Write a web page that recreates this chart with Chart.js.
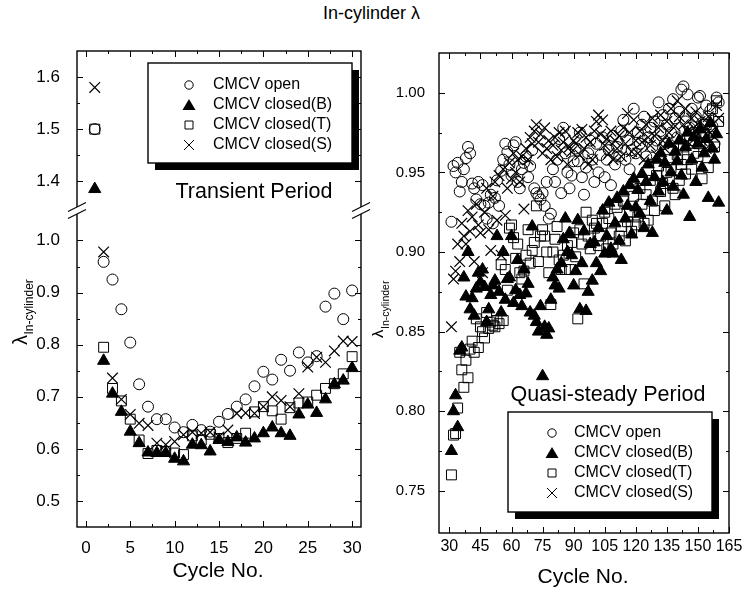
<!DOCTYPE html>
<html>
<head>
<meta charset="utf-8">
<script src="https://cdn.jsdelivr.net/npm/chart.js@4.4.1/dist/chart.umd.min.js"></script>
<style>
  html, body { margin: 0; padding: 0; background: #fff; }
  #wrap { position: relative; width: 743px; height: 597px; overflow: hidden;
          font-family: "Liberation Sans", Arial, Helvetica, sans-serif; }
  #title { position: absolute; left: 0; top: 3px; width: 743px; text-align: center;
           font-size: 18px; color: #000; }
  canvas { position: absolute; top: 0; }
</style>
</head>
<body>
<div id="wrap">
  <div id="title">In-cylinder λ</div>
  <canvas id="left" width="372" height="597" style="left:0"></canvas>
  <canvas id="right" width="371" height="597" style="left:372px"></canvas>
</div>
<script>
// ---- series labels ----
const seriesNames = ['CMCV open', 'CMCV closed(B)', 'CMCV closed(T)', 'CMCV closed(S)'];
const seriesKinds = ['circle', 'triangle', 'rect', 'crossRot'];

// ---- transient period (cycles 1-30) ----
const leftCycles = [1, 2, 3, 4, 5, 6, 7, 8, 9, 10, 11, 12, 13, 14, 15,
                    16, 17, 18, 19, 20, 21, 22, 23, 24, 25, 26, 27, 28, 29, 30];
const leftOpen = [1.50, 0.959, 0.925, 0.868, 0.804, 0.724, 0.681, 0.657, 0.657, 0.641,
                  0.632, 0.646, 0.636, 0.633, 0.652, 0.667, 0.681, 0.695, 0.720, 0.748,
                  0.733, 0.771, 0.750, 0.785, 0.766, 0.778, 0.873, 0.898, 0.849, 0.904];
const leftClosedB = [1.385, 0.769, 0.706, 0.671, 0.633, 0.611, 0.593, 0.592, 0.592, 0.581,
                     0.576, 0.608, 0.607, 0.595, 0.617, 0.613, 0.622, 0.612, 0.620, 0.630,
                     0.641, 0.630, 0.625, 0.666, 0.685, 0.669, 0.695, 0.724, 0.731, 0.755];
const leftClosedT = [1.50, 0.795, 0.716, 0.692, 0.657, 0.617, 0.591, 0.597, 0.595, 0.592,
                     0.589, 0.625, 0.617, 0.628, 0.620, 0.612, 0.620, 0.630, 0.671, 0.681,
                     0.673, 0.657, 0.679, 0.688, 0.690, 0.703, 0.716, 0.725, 0.744, 0.777];
const leftClosedS = [1.58, 0.978, 0.736, 0.695, 0.666, 0.649, 0.645, 0.611, 0.608, 0.614,
                     0.627, 0.632, 0.630, 0.632, 0.623, 0.636, 0.668, 0.669, 0.668, 0.681,
                     0.700, 0.693, 0.681, 0.706, 0.757, 0.776, 0.766, 0.788, 0.807, 0.806];

// ---- quasi-steady period (cycles 31-160) ----
const rightCycles = [
   31,  32,  33,  34,  35,  36,  37,  38,  39,  40,
   41,  42,  43,  44,  45,  46,  47,  48,  49,  50,
   51,  52,  53,  54,  55,  56,  57,  58,  59,  60,
   61,  62,  63,  64,  65,  66,  67,  68,  69,  70,
   71,  72,  73,  74,  75,  76,  77,  78,  79,  80,
   81,  82,  83,  84,  85,  86,  87,  88,  89,  90,
   91,  92,  93,  94,  95,  96,  97,  98,  99, 100,
  101, 102, 103, 104, 105, 106, 107, 108, 109, 110,
  111, 112, 113, 114, 115, 116, 117, 118, 119, 120,
  121, 122, 123, 124, 125, 126, 127, 128, 129, 130,
  131, 132, 133, 134, 135, 136, 137, 138, 139, 140,
  141, 142, 143, 144, 145, 146, 147, 148, 149, 150,
  151, 152, 153, 154, 155, 156, 157, 158, 159, 160];
const rightOpen = [
  0.919, 0.954, 0.950, 0.956, 0.938, 0.944, 0.952, 0.959, 0.966, 0.962,
  0.943, 0.940, 0.933, 0.944, 0.930, 0.942, 0.929, 0.921, 0.931, 0.936,
  0.918, 0.934, 0.945, 0.929, 0.951, 0.958, 0.968, 0.963, 0.955, 0.948,
  0.967, 0.969, 0.944, 0.940, 0.952, 0.956, 0.960, 0.947, 0.954, 0.964,
  0.940, 0.937, 0.935, 0.933, 0.937, 0.929, 0.944, 0.921, 0.924, 0.952,
  0.944, 0.958, 0.971, 0.937, 0.978, 0.962, 0.950, 0.940, 0.948, 0.957,
  0.965, 0.957, 0.975, 0.947, 0.936, 0.953, 0.962, 0.970, 0.958, 0.944,
  0.968, 0.950, 0.961, 0.972, 0.947, 0.958, 0.964, 0.942, 0.973, 0.955,
  0.966, 0.960, 0.976, 0.983, 0.958, 0.970, 0.952, 0.964, 0.990, 0.962,
  0.975, 0.968, 0.980, 0.985, 0.960, 0.972, 0.978, 0.966, 0.982, 0.970,
  0.994, 0.976, 0.986, 0.968, 0.980, 0.990, 0.975, 0.996, 0.984, 0.972,
  0.988, 1.002, 1.004, 0.982, 0.999, 0.978, 0.990, 0.970, 0.985, 0.997,
  0.998, 0.981, 0.975, 0.992, 0.985, 0.989, 0.979, 0.968, 0.997, 0.994];
const rightClosedB = [
  0.775, 0.800, 0.810, 0.790, 0.838, 0.840, 0.884, 0.872, 0.900, 0.864,
  0.871, 0.860, 0.877, 0.887, 0.881, 0.889, 0.878, 0.856, 0.864, 0.873,
  0.879, 0.882, 0.910, 0.875, 0.862, 0.900, 0.870, 0.883, 0.884, 0.910,
  0.868, 0.876, 0.895, 0.873, 0.866, 0.889, 0.874, 0.880, 0.862, 0.916,
  0.860, 0.856, 0.850, 0.866, 0.822, 0.853, 0.848, 0.852, 0.870, 0.884,
  0.879, 0.889, 0.877, 0.893, 0.908, 0.921, 0.900, 0.912, 0.898, 0.879,
  0.888, 0.920, 0.864, 0.893, 0.913, 0.863, 0.875, 0.905, 0.882, 0.906,
  0.893, 0.915, 0.888, 0.926, 0.899, 0.910, 0.931, 0.902, 0.899, 0.918,
  0.934, 0.907, 0.895, 0.938, 0.921, 0.929, 0.942, 0.911, 0.946, 0.928,
  0.939, 0.924, 0.949, 0.915, 0.944, 0.955, 0.932, 0.912, 0.947, 0.958,
  0.938, 0.962, 0.944, 0.956, 0.926, 0.968, 0.950, 0.941, 0.963, 0.957,
  0.970, 0.948, 0.936, 0.966, 0.975, 0.922, 0.958, 0.972, 0.944, 0.968,
  0.977, 0.953, 0.962, 0.971, 0.934, 0.981, 0.965, 0.958, 0.974, 0.931];
const rightClosedT = [
  0.760, 0.785, 0.786, 0.802, 0.837, 0.826, 0.815, 0.832, 0.821, 0.839,
  0.844, 0.837, 0.858, 0.840, 0.853, 0.850, 0.846, 0.862, 0.852, 0.856,
  0.854, 0.853, 0.857, 0.855, 0.892, 0.857, 0.889, 0.876, 0.915, 0.917,
  0.909, 0.896, 0.905, 0.887, 0.883, 0.888, 0.898, 0.914, 0.893, 0.901,
  0.906, 0.929, 0.894, 0.910, 0.914, 0.910, 0.900, 0.887, 0.867, 0.900,
  0.908, 0.916, 0.895, 0.889, 0.898, 0.889, 0.904, 0.889, 0.906, 0.912,
  0.897, 0.858, 0.914, 0.905, 0.880, 0.925, 0.910, 0.902, 0.920, 0.915,
  0.918, 0.904, 0.910, 0.918, 0.925, 0.902, 0.921, 0.912, 0.905, 0.930,
  0.928, 0.910, 0.916, 0.932, 0.907, 0.919, 0.925, 0.913, 0.935, 0.917,
  0.922, 0.940, 0.930, 0.918, 0.936, 0.920, 0.945, 0.932, 0.926, 0.948,
  0.954, 0.938, 0.943, 0.929, 0.950, 0.958, 0.953, 0.940, 0.936, 0.961,
  0.945, 0.955, 0.966, 0.949, 0.958, 0.970, 0.952, 0.962, 0.975, 0.960,
  0.968, 0.946, 0.972, 0.980, 0.953, 0.976, 0.990, 0.966, 0.995, 0.982];
const rightClosedS = [
  0.853, 0.883, 0.888, 0.905, 0.894, 0.918, 0.910, 0.905, 0.926, 0.913,
  0.922, 0.894, 0.930, 0.917, 0.912, 0.887, 0.925, 0.940, 0.914, 0.901,
  0.935, 0.944, 0.920, 0.948, 0.898, 0.952, 0.923, 0.940, 0.956, 0.946,
  0.962, 0.950, 0.958, 0.944, 0.960, 0.927, 0.965, 0.958, 0.972, 0.968,
  0.976, 0.980, 0.969, 0.974, 0.962, 0.978, 0.965, 0.970, 0.958, 0.967,
  0.972, 0.960, 0.975, 0.964, 0.969, 0.976, 0.955, 0.966, 0.963, 0.970,
  0.968, 0.975, 0.961, 0.977, 0.965, 0.972, 0.955, 0.969, 0.958, 0.976,
  0.982, 0.986, 0.974, 0.983, 0.967, 0.971, 0.962, 0.976, 0.958, 0.970,
  0.965, 0.973, 0.960, 0.978, 0.968, 0.987, 0.975, 0.963, 0.983, 0.970,
  0.962, 0.976, 0.969, 0.958, 0.980, 0.972, 0.967, 0.984, 0.973, 0.961,
  0.978, 0.986, 0.970, 0.965, 0.982, 0.975, 0.990, 0.968, 0.979, 0.995,
  0.985, 0.972, 0.980, 0.990, 0.976, 0.968, 0.984, 0.978, 0.988, 0.974,
  0.982, 0.970, 0.978, 0.965, 0.985, 0.975, 0.980, 0.972, 0.992, 0.984];

// ---- tick values ----
const leftXTicks = [0, 5, 10, 15, 20, 25, 30];
const leftXMinor = [2.5, 7.5, 12.5, 17.5, 22.5, 27.5];
const leftTopTicks = [1.4, 1.5, 1.6];
const leftTopMinor = [1.45, 1.55];
const leftLowTicks = [0.5, 0.6, 0.7, 0.8, 0.9, 1.0];
const leftLowMinor = [0.55, 0.65, 0.75, 0.85, 0.95];
const rightXTicks = [30, 45, 60, 75, 90, 105, 120, 135, 150, 165];
const rightXMinor = [37.5, 52.5, 67.5, 82.5, 97.5, 112.5, 127.5, 142.5, 157.5];
const rightYTicks = [0.75, 0.80, 0.85, 0.90, 0.95, 1.00];
const rightYMinor = [0.775, 0.825, 0.875, 0.925, 0.975];

const FONT = '"Liberation Sans", Arial, Helvetica, sans-serif';

// point appearance for each of the four series
const pointLook = [
  { pointStyle: 'circle',   pointRadius: 5.5, borderWidth: 1,   backgroundColor: 'rgba(0,0,0,0)' },
  { pointStyle: 'triangle', pointRadius: 7,   borderWidth: 1,   backgroundColor: '#000' },
  { pointStyle: 'rect',     pointRadius: 7,   borderWidth: 1,   backgroundColor: 'rgba(0,0,0,0)' },
  { pointStyle: 'crossRot', pointRadius: 7.5, borderWidth: 1.2, backgroundColor: 'rgba(0,0,0,0)' }
];

function scatterSet(xs, ys, k, axisId, keep) {
  const pts = [];
  xs.forEach((x, i) => { if (keep(ys[i])) pts.push({ x: x, y: ys[i] }); });
  return Object.assign({
    data: pts, yAxisID: axisId, borderColor: '#000',
    pointHoverRadius: pointLook[k].pointRadius, showLine: false
  }, pointLook[k]);
}

function drawMarker(ctx, kind, x, y) {
  ctx.save();
  ctx.strokeStyle = '#000'; ctx.fillStyle = '#000'; ctx.lineWidth = 1;
  ctx.beginPath();
  if (kind === 'circle') {
    ctx.arc(x, y, 4.2, 0, Math.PI * 2); ctx.stroke();
  } else if (kind === 'triangle') {
    ctx.moveTo(x, y - 6); ctx.lineTo(x + 6.5, y + 5); ctx.lineTo(x - 6.5, y + 5); ctx.closePath(); ctx.fill();
  } else if (kind === 'rect') {
    ctx.rect(x - 4, y - 4, 8, 8); ctx.stroke();
  } else {
    ctx.moveTo(x - 5, y - 5); ctx.lineTo(x + 5, y + 5);
    ctx.moveTo(x + 5, y - 5); ctx.lineTo(x - 5, y + 5); ctx.stroke();
  }
  ctx.restore();
}

// frame box with inward ticks on all four sides, plus an optional axis break
const frameTicks = {
  id: 'frameTicks',
  afterDatasetsDraw(chart, args, o) {
    const ctx = chart.ctx, a = chart.chartArea;
    ctx.save();
    ctx.strokeStyle = '#000';
    ctx.lineWidth = 1;
    const seg = (x1, y1, x2, y2) => { ctx.beginPath(); ctx.moveTo(x1, y1); ctx.lineTo(x2, y2); ctx.stroke(); };
    const xs = chart.scales.x;
    const xMarks = (list, len) => list.forEach(v => {
      const p = Math.round(xs.getPixelForValue(v)) + 0.5;
      seg(p, a.bottom, p, a.bottom - len); seg(p, a.top, p, a.top + len);
    });
    xMarks(o.xMajor, 6); xMarks(o.xMinor, 3);
    o.yAxes.forEach(ax => {
      const sc = chart.scales[ax.id];
      const yMarks = (list, len) => list.forEach(v => {
        const p = Math.round(sc.getPixelForValue(v)) + 0.5;
        seg(a.left, p, a.left + len, p); seg(a.right, p, a.right - len, p);
      });
      yMarks(ax.major, 6); yMarks(ax.minor, 3);
    });
    ctx.lineWidth = 1.4;
    ctx.strokeRect(a.left, a.top, a.right - a.left, a.bottom - a.top);
    if (o.breakAfter) {
      const b = chart.scales[o.breakAfter].bottom;
      [a.left, a.right].forEach(x0 => {
        ctx.fillStyle = '#fff';
        ctx.fillRect(x0 - 2, b - 4, 4, 7);
        ctx.lineWidth = 1.2;
        seg(x0 - 9, b + 0.5, x0 + 9, b - 8.5);
        seg(x0 - 9, b + 7.5, x0 + 9, b - 1.5);
      });
    }
    ctx.restore();
  }
};

// legend box with shadow, period caption and axis titles
const panelText = {
  id: 'panelText',
  afterDraw(chart, args, o) {
    const ctx = chart.ctx;
    ctx.save();
    const L = o.legend;
    ctx.fillStyle = '#000';
    ctx.fillRect(L.x + 7, L.y + 7, L.w, L.h);
    ctx.fillStyle = '#fff';
    ctx.fillRect(L.x, L.y, L.w, L.h);
    ctx.strokeStyle = '#000'; ctx.lineWidth = 1.4;
    ctx.strokeRect(L.x, L.y, L.w, L.h);
    ctx.font = '16px ' + FONT;
    ctx.textBaseline = 'middle'; ctx.textAlign = 'left';
    seriesNames.forEach((name, i) => {
      const y = L.y + L.row0 + i * L.rowGap;
      drawMarker(ctx, seriesKinds[i], L.x + L.markDx, y);
      ctx.fillStyle = '#000';
      ctx.fillText(name, L.x + L.textDx, y);
    });
    // period caption
    ctx.font = '21.5px ' + FONT;
    ctx.textAlign = 'center';
    ctx.fillText(o.caption.text, o.caption.x, o.caption.y);
    // x title
    ctx.font = '21px ' + FONT;
    ctx.fillText('Cycle No.', o.xTitle.x, o.xTitle.y);
    // y title: lambda with subscript, rotated
    const t = o.yTitle;
    ctx.translate(t.x, t.y);
    ctx.rotate(-Math.PI / 2);
    ctx.textAlign = 'left'; ctx.textBaseline = 'alphabetic';
    ctx.font = t.big + 'px ' + FONT;
    ctx.fillText('λ', 0, 0);
    const w = ctx.measureText('λ').width;
    ctx.font = t.small + 'px ' + FONT;
    ctx.fillText('In-cylinder', w + 0.5, t.drop);
    ctx.restore();
  }
};

const tickFont = (px) => ({ family: FONT, size: px });

// ---------- transient period panel ----------
const leftSets = [];
[leftOpen, leftClosedB, leftClosedT, leftClosedS].forEach((vals, k) => {
  leftSets.push(scatterSet(leftCycles, vals, k, 'yLow', v => v < 1.2));
  leftSets.push(scatterSet(leftCycles, vals, k, 'yTop', v => v >= 1.2));
});

new Chart(document.getElementById('left'), {
  type: 'scatter',
  data: { datasets: leftSets },
  options: {
    responsive: false, animation: false, devicePixelRatio: 1,
    layout: { padding: { top: 51, right: 11, bottom: 0, left: 0 } },
    plugins: {
      legend: { display: false }, tooltip: { enabled: false },
      frameTicks: {
        xMajor: leftXTicks, xMinor: leftXMinor,
        yAxes: [{ id: 'yTop', major: leftTopTicks, minor: leftTopMinor },
                { id: 'yLow', major: leftLowTicks, minor: leftLowMinor }],
        breakAfter: 'yTop'
      },
      panelText: {
        legend: { x: 148, y: 63, w: 204, h: 100, row0: 22, rowGap: 20, markDx: 41, textDx: 65 },
        caption: { text: 'Transient Period', x: 254, y: 192 },
        xTitle: { x: 218, y: 571 },
        yTitle: { x: 27, y: 345, big: 20, small: 12, drop: 6 }
      }
    },
    scales: {
      x: {
        type: 'linear', min: -1, max: 31,
        afterBuildTicks: s => { s.ticks = leftXTicks.map(v => ({ value: v })); },
        afterFit: s => { s.height = 70; },
        grid: { display: false }, border: { display: false },
        ticks: { font: tickFont(17), color: '#000', padding: 3, maxRotation: 0, autoSkip: false }
      },
      // lower segment listed first so the stack places it below the upper one
      yLow: {
        type: 'linear', position: 'left', stack: 'lam', stackWeight: 0.6067,
        min: 0.45, max: 1.0567,
        afterBuildTicks: s => { s.ticks = leftLowTicks.map(v => ({ value: v })); },
        afterFit: s => { s.width = 77; },
        grid: { display: false }, border: { display: false },
        ticks: { font: tickFont(17), color: '#000', padding: 9, callback: v => v.toFixed(1) }
      },
      yTop: {
        type: 'linear', position: 'left', stack: 'lam', stackWeight: 0.307,
        min: 1.343, max: 1.65,
        afterBuildTicks: s => { s.ticks = leftTopTicks.map(v => ({ value: v })); },
        afterFit: s => { s.width = 77; },
        grid: { display: false }, border: { display: false },
        ticks: { font: tickFont(17), color: '#000', padding: 9, callback: v => v.toFixed(1) }
      }
    }
  },
  plugins: [frameTicks, panelText]
});

// ---------- quasi-steady period panel ----------
const rightSets = [rightOpen, rightClosedB, rightClosedT, rightClosedS]
  .map((vals, k) => scatterSet(rightCycles, vals, k, 'y', () => true));

new Chart(document.getElementById('right'), {
  type: 'scatter',
  data: { datasets: rightSets },
  options: {
    responsive: false, animation: false, devicePixelRatio: 1,
    layout: { padding: { top: 53, right: 14, bottom: 0, left: 0 } },
    plugins: {
      legend: { display: false }, tooltip: { enabled: false },
      frameTicks: {
        xMajor: rightXTicks, xMinor: rightXMinor,
        yAxes: [{ id: 'y', major: rightYTicks, minor: rightYMinor }]
      },
      panelText: {
        legend: { x: 136, y: 412, w: 204, h: 100, row0: 21, rowGap: 20, markDx: 44, textDx: 66 },
        caption: { text: 'Quasi-steady Period', x: 236, y: 395 },
        xTitle: { x: 211, y: 577 },
        yTitle: { x: 11, y: 338, big: 17, small: 10.5, drop: 6 }
      }
    },
    scales: {
      x: {
        type: 'linear', min: 25, max: 165,
        afterBuildTicks: s => { s.ticks = rightXTicks.map(v => ({ value: v })); },
        afterFit: s => { s.height = 64; },
        grid: { display: false }, border: { display: false },
        ticks: { font: tickFont(16), color: '#000', padding: -4, maxRotation: 0, autoSkip: false }
      },
      y: {
        type: 'linear', position: 'left', min: 0.7235, max: 1.025,
        afterBuildTicks: s => { s.ticks = rightYTicks.map(v => ({ value: v })); },
        afterFit: s => { s.width = 67; },
        grid: { display: false }, border: { display: false },
        ticks: { font: tickFont(15), color: '#000', padding: 6, callback: v => v.toFixed(2) }
      }
    }
  },
  plugins: [frameTicks, panelText]
});
</script>
</body>
</html>
